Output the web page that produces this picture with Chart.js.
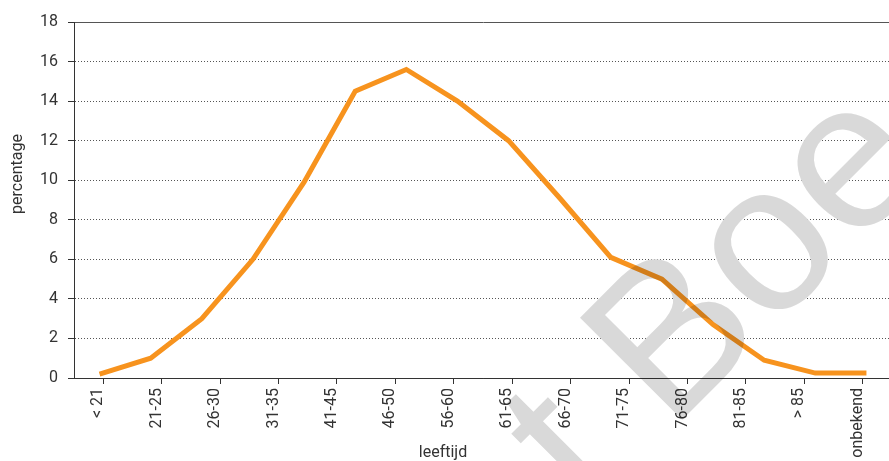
<!DOCTYPE html>
<html>
<head>
<meta charset="utf-8">
<script src="https://cdn.jsdelivr.net/npm/chart.js@4.4.1/dist/chart.umd.min.js"></script>
<style>
  html, body { margin: 0; padding: 0; background: #fff; overflow: hidden; }
</style>
</head>
<body>
<canvas id="chart" width="895" height="461"></canvas>
<script>
// age groups the line is plotted on
const ageGroups = ['< 21', '21-25', '26-30', '31-35', '36-40', '41-45', '46-50', '51-55',
  '56-60', '61-65', '66-70', '71-75', '76-80', '81-85', '> 85', 'onbekend'];
const percentages = [0.2, 1.0, 3.0, 6.0, 9.9, 14.5, 15.6, 14.0, 12.0, 9.1, 6.1, 5.0, 2.7, 0.9, 0.25, 0.25];
// labels as printed under the axis
const tickLabels = ['< 21', '21-25', '26-30', '31-35', '41-45', '46-50', '56-60', '61-65',
  '66-70', '71-75', '76-80', '81-85', '> 85', 'onbekend'];
const yMax = 18;
const yStep = 2;

const textColor = '#333';
const font = 'Roboto';

function drawMark(ctx, color) {
  ctx.save();
  ctx.font = '210px "Liberation Sans"';
  ctx.fillStyle = color;
  ctx.translate(670, 432);
  ctx.rotate(-45 * Math.PI / 180);
  ctx.textBaseline = 'alphabetic';
  ctx.textAlign = 'left';
  ctx.fillText('Boe', 0, 0);
  ctx.textAlign = 'right';
  ctx.fillText('t ', 0, 0);
  ctx.restore();
}

const extras = {
  id: 'extras',
  beforeDatasetsDraw(chart) {
    // the watermark hides the dotted grid under it
    const { ctx, chartArea: a } = chart;
    ctx.save();
    ctx.beginPath();
    ctx.rect(a.left + 1, a.top + 1, a.right - a.left - 2, a.bottom - a.top - 2);
    ctx.clip();
    drawMark(ctx, '#fff');
    ctx.restore();
  },
  afterDraw(chart) {
    const ctx = chart.ctx;
    ctx.save();
    ctx.fillStyle = textColor;
    ctx.font = '16px ' + font;
    ctx.textAlign = 'center';
    ctx.textBaseline = 'alphabetic';
    ctx.fillText('leeftijd', 443, 457);
    ctx.translate(22, 174);
    ctx.rotate(-Math.PI / 2);
    ctx.fillText('percentage', 0, 0);
    ctx.restore();

    ctx.save();
    ctx.globalCompositeOperation = 'multiply';
    drawMark(ctx, '#d9d9d9');
    ctx.restore();
  }
};

new Chart(document.getElementById('chart'), {
  type: 'line',
  data: {
    labels: ageGroups,
    datasets: [{
      data: percentages,
      xAxisID: 'xd',
      borderColor: '#F7931E',
      borderWidth: 5,
      borderJoinStyle: 'miter',
      pointRadius: 0,
      tension: 0,
      fill: false
    }]
  },
  options: {
    responsive: false,
    animation: false,
    devicePixelRatio: 1,
    layout: { padding: { top: 22, right: 3, left: 0, bottom: 0 } },
    plugins: { legend: { display: false }, tooltip: { enabled: false } },
    scales: {
      x: {
        type: 'category',
        labels: tickLabels,
        offset: true,
        grid: { drawOnChartArea: false, drawTicks: true, tickLength: 6, tickColor: textColor, color: textColor },
        border: { color: textColor, width: 1 },
        ticks: {
          color: textColor, font: { family: font, size: 16 },
          minRotation: 90, maxRotation: 90, autoSkip: false, padding: 4, labelOffset: -5
        },
        afterFit(scale) { scale.height = 83; scale.paddingLeft = 0; scale.paddingRight = 0; }
      },
      xd: {
        type: 'category',
        labels: ageGroups,
        offset: true,
        display: false
      },
      y: {
        min: 0,
        max: yMax,
        grid: { color: '#555', lineWidth: 1, tickLength: 6, tickColor: textColor },
        border: {
          color: textColor, width: 1,
          dash: (c) => (c.tick && c.tick.value === yMax ? [] : [1, 2])
        },
        ticks: { stepSize: yStep, color: textColor, font: { family: font, size: 16 }, padding: 10 },
        afterFit(scale) { scale.width = 74; }
      }
    }
  },
  plugins: [extras]
});
</script>
</body>
</html>
